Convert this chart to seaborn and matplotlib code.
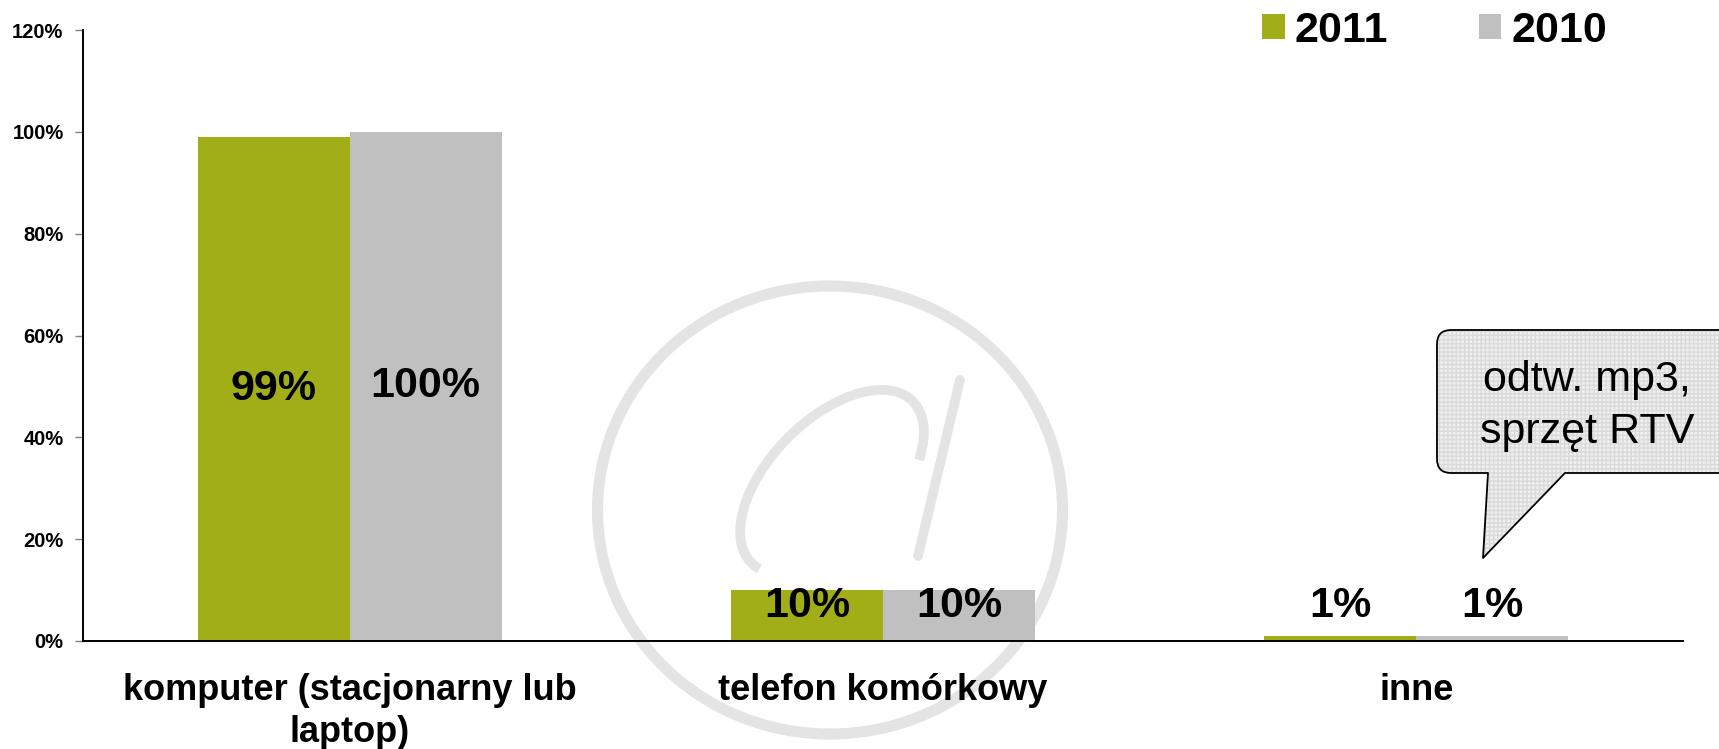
import matplotlib
matplotlib.use("Agg")
import matplotlib.pyplot as plt
import matplotlib.patches as mpatches
import matplotlib.lines as mlines
import seaborn as sns
import pandas as pd

# data
categories = ["komputer (stacjonarny lub\nlaptop)", "telefon komórkowy", "inne"]
years = ["2011", "2010"]
values_2011 = [99, 10, 1]
values_2010 = [100, 10, 1]
yticks = [0, 20, 40, 60, 80, 100, 120]
callout_text = "odtw. mp3,\nsprzęt RTV"

colors = {"2011": "#A2AE17", "2010": "#C0C0C0"}

df = pd.DataFrame({
    "kategoria": categories * 2,
    "rok": ["2011"] * 3 + ["2010"] * 3,
    "wartosc": values_2011 + values_2010,
})

sns.set_style("white")
plt.rcParams["font.family"] = ["Liberation Sans", "DejaVu Sans"]
plt.rcParams["text.color"] = "black"
plt.rcParams["xtick.labelcolor"] = "black"
plt.rcParams["ytick.labelcolor"] = "black"

W, H = 1719, 749
fig = plt.figure(figsize=(W / 100, H / 100), dpi=100)
ax = fig.add_axes([83 / W, 1 - 641 / H, (1683 - 83) / W, (641 - 30) / H])
ax.patch.set_alpha(0)


def fx(px):
    return px / W


def fy(py):
    return 1 - py / H


# ---- faint "@" watermark behind the chart
wm = "#e4e4e4"
fig.patches.append(mpatches.Ellipse((fx(830), fy(510)), 465 / W, 448 / H,
                                    transform=fig.transFigure, fill=False,
                                    edgecolor=wm, linewidth=8, zorder=-2))
fig.patches.append(mpatches.Arc((fx(832), fy(482)), 150 / W, 190 / H, angle=-15,
                                theta1=45, theta2=265, transform=fig.transFigure,
                                edgecolor=wm, linewidth=7, zorder=-2))
fig.lines.append(mlines.Line2D([fx(960), fx(918)], [fy(380), fy(556)],
                               transform=fig.transFigure, color=wm, linewidth=7,
                               solid_capstyle="round", zorder=-2))

# ---- bars
sns.barplot(data=df, x="kategoria", y="wartosc", hue="rok", hue_order=years,
            palette=colors, width=0.57, saturation=1, linewidth=0, ax=ax, legend=True)

ax.set_ylim(0, 120)
ax.set_yticks(yticks)
ax.set_yticklabels([f"{v}%" for v in yticks], fontsize=14.5, fontweight="bold")
ax.set_xlabel("")
ax.set_ylabel("")

for lab in ax.get_xticklabels():
    lab.set_fontsize(26)
    lab.set_fontweight("bold")
    lab.set_linespacing(1.25)

ax.tick_params(axis="x", which="major", length=0, pad=23)
ax.set_xticks([-0.5, 0.5, 1.5, 2.5], minor=True)
ax.tick_params(axis="x", which="minor", length=8, width=1, color="#555555", direction="out")
ax.tick_params(axis="y", length=6, width=1, color="#808080", pad=8, left=True)
ax.set_xlim(-0.5, 2.5)

sns.despine(ax=ax)
for side in ["left", "bottom"]:
    ax.spines[side].set_color("black")
    ax.spines[side].set_linewidth(1.4)

# value labels
for cont, vals in zip(ax.containers, [values_2011, values_2010]):
    for p, v in zip(cont.patches, vals):
        ypos = v / 2 if v > 20 else 6.9
        ax.text(p.get_x() + p.get_width() / 2, ypos, f"{v}%", ha="center", va="center",
                fontsize=31, fontweight="bold", color="black")

# legend
leg = ax.legend(loc="upper left", bbox_to_anchor=(fx(1262), fy(11)),
                bbox_transform=fig.transFigure, ncol=2, frameon=False,
                prop={"size": 31, "weight": "bold"}, handlelength=0.53,
                handleheight=0.53, handletextpad=0.23, columnspacing=2.1,
                borderpad=0, borderaxespad=0)

# ---- callout bubble
bx0, bx1, by0, by1 = 1437, 1780, 330, 473
for kw in [dict(facecolor="#efefef", edgecolor="#dadada", hatch="++++", linewidth=0, zorder=5),
           dict(facecolor="none", edgecolor="black", linewidth=1.3, zorder=6)]:
    fig.patches.append(mpatches.FancyBboxPatch((fx(bx0), fy(by1)), (bx1 - bx0) / W, (by1 - by0) / H,
                                               boxstyle=f"round,pad=0,rounding_size={14 / W}",
                                               transform=fig.transFigure,
                                               mutation_aspect=W / H, **kw))
tail = [(fx(1488), fy(472)), (fx(1565), fy(472)), (fx(1483), fy(558))]
fig.patches.append(mpatches.Polygon(tail, closed=True, transform=fig.transFigure,
                                    facecolor="#efefef", edgecolor="#dadada", hatch="++++",
                                    linewidth=0, zorder=7))
fig.lines.append(mlines.Line2D([fx(1488), fx(1483), fx(1565)], [fy(473), fy(558), fy(473)],
                               transform=fig.transFigure, color="black", linewidth=1.3, zorder=8))
fig.text(fx(1587), fy(406), callout_text, ha="center", va="center", fontsize=31,
         linespacing=1.38, color="black", zorder=9)

fig.savefig("out.png", dpi=100)
